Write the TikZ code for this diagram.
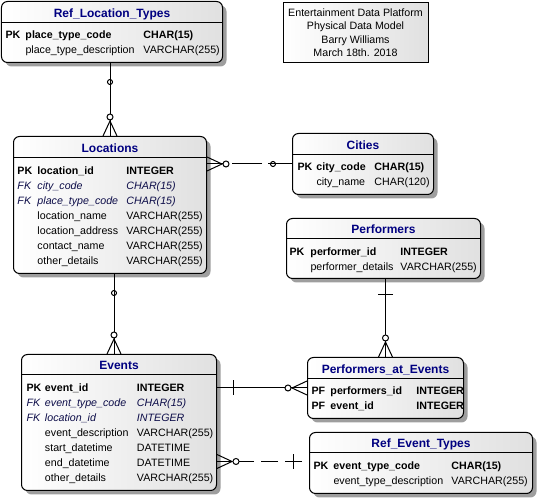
\documentclass[tikz,border=0pt]{standalone}
\usepackage{fontspec}
\setmainfont{Liberation Sans}
\usetikzlibrary{calc}
\usetikzlibrary{positioning}
\usetikzlibrary{shadows}

\newlength{\pxl}
\setlength{\pxl}{0.75pt}

\definecolor{titleblue}{RGB}{0,0,128}
\definecolor{fkblue}{RGB}{12,12,72}

\newcommand{\pkrow}[3]{\textbf{#1} & \textbf{#2} & \textbf{#3}\\}
\newcommand{\fkrow}[3]{\textcolor{fkblue}{\textit{#1}} & \textcolor{fkblue}{\textit{#2}} & \textcolor{fkblue}{\textit{#3}}\\}
\newcommand{\atrow}[2]{ & #1 & #2\\}

\tikzset{
  entity/.style={draw, rounded corners=6\pxl, anchor=north west, inner sep=0pt,
    left color=white, right color=black!12,
    drop shadow={shadow xshift=3pt, shadow yshift=-3pt, fill=black!38, opacity=1}},
  entitle/.style={anchor=mid, inner sep=0pt, text=titleblue,
    font=\fontsize{9pt}{11pt}\selectfont\bfseries},
  enbody/.style={anchor=base west, inner sep=0pt,
    font=\fontsize{8pt}{11.25pt}\selectfont},
  notebox/.style={draw, inner sep=0pt, align=center,
    left color=white, right color=black!12,
    minimum width=145\pxl, minimum height=60\pxl,
    font=\fontsize{8pt}{10.125pt}\selectfont},
  zeromany/.pic={
    \draw (0,-7) -- (15,0) -- (0,7);
    \draw (0,0) -- (15,0);
    \draw[fill=white] (19,0) circle[radius=2.25pt];
  },
  zeroone/.pic={
    \draw (19,0) circle[radius=1.9pt];
  },
  onebar/.pic={
    \draw (16,-7.5) -- (16,7.5);
  },
}

\begin{document}
\begin{tikzpicture}[x=\pxl, y=-\pxl, line width=\pxl]
\useasboundingbox (0,0) rectangle (537,499);

% Title note
\node[notebox] (note) at (355.5,32.5) {Entertainment Data Platform\\Physical Data Model\\Barry Williams\\March 18th. 2018};

% Ref_Location_Types
\node[entity, minimum width=221\pxl, minimum height=61\pxl] (rlt) at (1,1) {};
\node[entitle] (rlt-title) at ($(rlt.north)+(0,12.5)$) {Ref\_Location\_Types};
\draw ($(rlt.north west)+(0,21.5)$) -- ($(rlt.north east)+(0,21.5)$);
\node[enbody] (rlt-cols) at ($(rlt.north west)+(4,37.5)$) {%
  \begin{tabular}[t]{@{}p{20\pxl}@{}p{118\pxl}@{}l@{}}
  \pkrow{PK}{place\_type\_code}{CHAR(15)}
  \atrow{place\_type\_description}{VARCHAR(255)}
  \end{tabular}};

% Locations
\node[entity, minimum width=193\pxl, minimum height=137\pxl] (loc) at (13,136) {};
\node[entitle] (loc-title) at ($(loc.north)+(0,12.5)$) {Locations};
\draw ($(loc.north west)+(0,21.5)$) -- ($(loc.north east)+(0,21.5)$);
\node[enbody] (loc-cols) at ($(loc.north west)+(4,38.5)$) {%
  \begin{tabular}[t]{@{}p{20\pxl}@{}p{89\pxl}@{}l@{}}
  \pkrow{PK}{location\_id}{INTEGER}
  \fkrow{FK}{city\_code}{CHAR(15)}
  \fkrow{FK}{place\_type\_code}{CHAR(15)}
  \atrow{location\_name}{VARCHAR(255)}
  \atrow{location\_address}{VARCHAR(255)}
  \atrow{contact\_name}{VARCHAR(255)}
  \atrow{other\_details}{VARCHAR(255)}
  \end{tabular}};

% Cities
\node[entity, minimum width=141\pxl, minimum height=61\pxl] (cit) at (292,133) {};
\node[entitle] (cit-title) at ($(cit.north)+(0,12.5)$) {Cities};
\draw ($(cit.north west)+(0,21.5)$) -- ($(cit.north east)+(0,21.5)$);
\node[enbody] (cit-cols) at ($(cit.north west)+(5,37.5)$) {%
  \begin{tabular}[t]{@{}p{19\pxl}@{}p{58\pxl}@{}l@{}}
  \pkrow{PK}{city\_code}{CHAR(15)}
  \atrow{city\_name}{CHAR(120)}
  \end{tabular}};

% Performers
\node[entity, minimum width=194\pxl, minimum height=60\pxl] (perf) at (286,218) {};
\node[entitle] (perf-title) at ($(perf.north)+(0,12)$) {Performers};
\draw ($(perf.north west)+(0,20.5)$) -- ($(perf.north east)+(0,20.5)$);
\node[enbody] (perf-cols) at ($(perf.north west)+(3,37.5)$) {%
  \begin{tabular}[t]{@{}p{21\pxl}@{}p{90\pxl}@{}l@{}}
  \pkrow{PK}{performer\_id}{INTEGER}
  \atrow{performer\_details}{VARCHAR(255)}
  \end{tabular}};

% Performers_at_Events
\node[entity, minimum width=156\pxl, minimum height=61\pxl] (pae) at (307,357) {};
\node[entitle] (pae-title) at ($(pae.north)+(0,12.5)$) {Performers\_at\_Events};
\draw ($(pae.north west)+(0,21.5)$) -- ($(pae.north east)+(0,21.5)$);
\node[enbody] (pae-cols) at ($(pae.north west)+(4,37.5)$) {%
  \begin{tabular}[t]{@{}p{19\pxl}@{}p{86\pxl}@{}l@{}}
  \pkrow{PF}{performers\_id}{INTEGER}
  \pkrow{PF}{event\_id}{INTEGER}
  \end{tabular}};

% Events
\node[entity, minimum width=195\pxl, minimum height=136\pxl] (ev) at (21,354) {};
\node[entitle] (ev-title) at ($(ev.north)+(0,12)$) {Events};
\draw ($(ev.north west)+(0,21)$) -- ($(ev.north east)+(0,21)$);
\node[enbody] (ev-cols) at ($(ev.north west)+(5,37.5)$) {%
  \begin{tabular}[t]{@{}p{18.5\pxl}@{}p{92\pxl}@{}l@{}}
  \pkrow{PK}{event\_id}{INTEGER}
  \fkrow{FK}{event\_type\_code}{CHAR(15)}
  \fkrow{FK}{location\_id}{INTEGER}
  \atrow{event\_description}{VARCHAR(255)}
  \atrow{start\_datetime}{DATETIME}
  \atrow{end\_datetime}{DATETIME}
  \atrow{other\_details}{VARCHAR(255)}
  \end{tabular}};

% Ref_Event_Types
\node[entity, minimum width=223\pxl, minimum height=61\pxl] (ret) at (309,432) {};
\node[entitle] (ret-title) at ($(ret.north)+(0,12)$) {Ref\_Event\_Types};
\draw ($(ret.north west)+(0,21)$) -- ($(ret.north east)+(0,21)$);
\node[enbody] (ret-cols) at ($(ret.north west)+(4,37.5)$) {%
  \begin{tabular}[t]{@{}p{20\pxl}@{}p{118\pxl}@{}l@{}}
  \pkrow{PK}{event\_type\_code}{CHAR(15)}
  \atrow{event\_type\_description}{VARCHAR(255)}
  \end{tabular}};

% Ref_Location_Types to Locations
\draw (rlt.south -| loc.north) -- (loc.north);
\pic[rotate=-90] at (rlt.south -| loc.north) {zeroone};
\pic[rotate=90] at (loc.north) {zeromany};

% Locations to Cities
\draw[dash pattern=on 22.5pt off 4.5pt, dash phase=4.5pt] (cit.west) -- (cit.west -| loc.east);
\pic at (cit.west -| loc.east) {zeromany};
\pic[rotate=180] at (cit.west) {zeroone};

% Locations to Events
\coordinate (loc-ev) at ($(loc.south)+(4,0)$);
\draw (loc-ev) -- (loc-ev |- ev.north);
\pic[rotate=-90] at (loc-ev) {zeroone};
\pic[rotate=90] at (loc-ev |- ev.north) {zeromany};

% Performers to Performers_at_Events
\draw (pae.north |- perf.south) -- (pae.north);
\pic[rotate=-90] at (pae.north |- perf.south) {onebar};
\pic[rotate=90] at (pae.north) {zeromany};

% Events to Performers_at_Events
\draw (ev.east |- pae.west) -- (pae.west);
\pic at (ev.east |- pae.west) {onebar};
\pic[rotate=180] at (pae.west) {zeromany};

% Events to Ref_Event_Types
\coordinate (ret-in) at ($(ret.west)+(0,-1.5)$);
\draw[dash pattern=on 12.75pt off 5.25pt, dash phase=12.75pt] (ret-in) -- (ret-in -| ev.east);
\pic at (ret-in -| ev.east) {zeromany};
\pic[rotate=180] at (ret-in) {onebar};

\end{tikzpicture}
\end{document}
